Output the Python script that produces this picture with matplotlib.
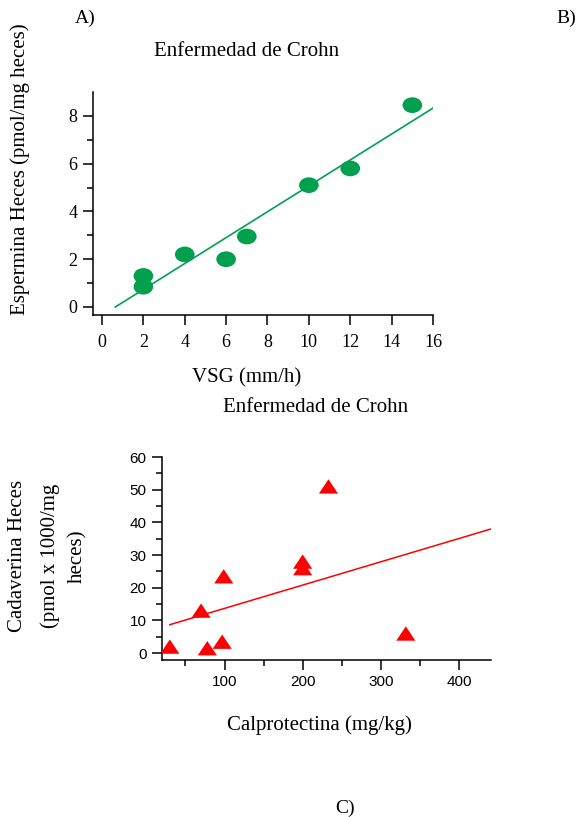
import matplotlib
matplotlib.use("Agg")
import matplotlib.pyplot as plt
import numpy as np
from matplotlib.path import Path
from matplotlib.transforms import Affine2D

# Panel A data: VSG vs espermina
vsg = [2, 2, 4, 6, 7, 10, 12, 15]
espermina = [0.85, 1.3, 2.2, 2.0, 2.95, 5.1, 5.8, 8.45]

# Panel C data: calprotectina vs cadaverina
calpro = [30, 70, 78, 97, 99, 200, 200, 233, 332]
cadaverina = [2, 13, 1.5, 3.5, 23.5, 28, 26, 51, 6]

green = "#00a04f"
red = "#ff0000"
serif = ["Liberation Serif", "DejaVu Serif"]
sans = ["Liberation Sans", "DejaVu Sans"]

# squashed markers like the original
ellipse = Path.unit_circle().transformed(Affine2D().scale(1.0, 0.8))
tri = Path([(0, 0.75), (-1, -0.75), (1, -0.75), (0, 0.75)],
           [Path.MOVETO, Path.LINETO, Path.LINETO, Path.CLOSEPOLY])

fig = plt.figure(figsize=(5.78, 8.17), dpi=100)


def style_axes(ax, font, size, pad):
    for s in ("top", "right"):
        ax.spines[s].set_visible(False)
    for s in ("left", "bottom"):
        ax.spines[s].set_linewidth(1.1)
    ax.tick_params(which="major", direction="out", length=7, width=1.1,
                   labelsize=size, pad=pad)
    ax.tick_params(which="minor", direction="out", length=4, width=1.1)
    for lab in ax.get_xticklabels() + ax.get_yticklabels():
        lab.set_family(font)


# --- Panel A ---
ax1 = fig.add_axes([93 / 578, 1 - 315 / 817, 340 / 578, 223 / 817])
ax1.scatter(vsg, espermina, marker=ellipse, s=200, color=green,
            edgecolors="none", zorder=3)
k, b = np.polyfit(vsg, espermina, 1)
fit_x = np.array([-b / k, 16])
ax1.plot(fit_x, k * fit_x + b, color=green, lw=1.2)
ax1.set_xlim(-0.435, 16)
ax1.set_ylim(-0.335, 9.0)
ax1.set_xticks(np.arange(0, 17, 2))
ax1.set_yticks(np.arange(0, 9, 2))
ax1.set_yticks(np.arange(1, 9, 2), minor=True)
style_axes(ax1, serif, 13, 4)
ax1.tick_params(axis="x", pad=7)

fig.text(247 / 578, 1 - 378 / 817, "VSG (mm/h)", ha="center", va="center",
         family=serif, fontsize=15)
fig.text(20 / 578, 1 - 169 / 817, "Espermina Heces (pmol/mg heces)",
         rotation=90, ha="center", va="center", family=serif, fontsize=15)
fig.text(247 / 578, 1 - 52 / 817, "Enfermedad de Crohn", ha="center",
         va="center", family=serif, fontsize=15)
fig.text(85 / 578, 1 - 18 / 817, "A)", ha="center", va="center",
         family=serif, fontsize=14)
fig.text(566 / 578, 1 - 18 / 817, "B)", ha="center", va="center",
         family=serif, fontsize=14)

# --- Panel C ---
ax2 = fig.add_axes([162 / 578, 1 - 660 / 817, 329 / 578, 203 / 817])
ax2.scatter(calpro, cadaverina, marker=tri, s=190, color=red,
            edgecolors="none", zorder=3)
k2, b2 = np.polyfit(calpro, cadaverina, 1)
fit_x2 = np.array([30, 441])
ax2.plot(fit_x2, k2 * fit_x2 + b2, color=red, lw=1.1)
ax2.set_xlim(20, 441)
ax2.set_ylim(-2.1, 60)
ax2.set_xticks([100, 200, 300, 400])
ax2.set_xticks([50, 150, 250, 350], minor=True)
ax2.set_yticks(np.arange(0, 61, 10))
ax2.set_yticks(np.arange(5, 60, 10), minor=True)
style_axes(ax2, sans, 11, 4)

fig.text(316 / 578, 1 - 407 / 817, "Enfermedad de Crohn", ha="center",
         va="center", family=serif, fontsize=15)
fig.text(319 / 578, 1 - 725 / 817, "Calprotectina (mg/kg)", ha="center",
         va="center", family=serif, fontsize=15)
for xpos, line in zip([18, 50, 78],
                      ["Cadaverina Heces", "(pmol x 1000/mg", "heces)"]):
    fig.text(xpos / 578, 1 - 556 / 817, line, rotation=90, ha="center",
             va="center", family=serif, fontsize=15)
fig.text(345 / 578, 1 - 808 / 817, "C)", ha="center", va="center",
         family=serif, fontsize=14)

fig.savefig("out.png", dpi=100)
